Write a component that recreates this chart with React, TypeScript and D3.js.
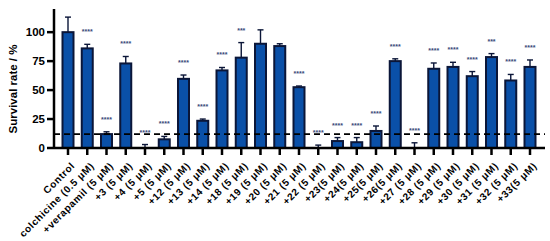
import React from 'react';
import * as d3 from 'd3';

const categories = [
  'Control', 'colchicine (0.5 μM)', '+verapamil (5 μM)', '+3 (5 μM)', '+4 (5 μM)',
  '+5 (5 μM)', '+12 (5 μM)', '+13 (5 μM)', '+14 (5 μM)', '+18 (5 μM)', '+19 (5 μM)',
  '+20 (5 μM)', '+21 (5 μM)', '+22 (5 μM)', '+23(5 μM)', '+24(5 μM)', '+25(5 μM)',
  '+26(5 μM)', '+27 (5 μM)', '+28 (5 μM)', '+29 (5 μM)', '+30 (5 μM)', '+31 (5 μM)',
  '+32 (5 μM)', '+33(5 μM)',
];

const means = [
  100, 86, 12, 73, 0.5, 7.5, 59.7, 23.5, 67, 78, 90, 88, 52.5, 0.3, 6, 5, 14.7,
  75, 0.8, 68.4, 70, 62, 78.5, 58.3, 70,
];

const errors = [
  13, 3.5, 2, 6, 2.5, 2.5, 3.3, 1.5, 2.5, 13, 12, 2, 1, 2.2, 3, 4, 4.3,
  2, 3.7, 5, 4, 4, 3, 5.2, 6,
];

const stars = [
  '', '****', '****', '****', '****', '****', '****', '****', '****', '***', '', '',
  '****', '****', '****', '****', '****', '****', '****', '****', '****', '****', '***',
  '****', '****',
];

const yTicks = [0, 25, 50, 75, 100];
const threshold = 12;

const width = 550;
const height = 241;
const axisX = 54;
const axisEnd = 545;
const font = '"Liberation Sans", Arial, sans-serif';

const App: React.FC = () => {
  const x = d3.scalePoint<string>().domain(categories).range([68, 530]);
  const y = d3.scaleLinear().domain([0, 120]).range([148, 9]);
  const barW = 11;
  const navy = '#0b1638';
  const fill = '#0a50a8';

  return (
    <div style={{ position: 'absolute', left: 0, top: 0 }}>
      <svg width={width} height={height} style={{ display: 'block', background: '#fff' }}>
        {/* bars */}
        {categories.map((c, i) => {
          const cx = x(c) as number;
          const top = y(means[i]);
          const errTop = y(means[i] + errors[i]);
          return (
            <g key={c}>
              <line x1={cx} x2={cx} y1={top} y2={errTop} stroke={navy} strokeWidth={1.4} />
              <line x1={cx - 3} x2={cx + 3} y1={errTop} y2={errTop} stroke={navy} strokeWidth={1.4} />
              {means[i] > 1.5 && (
                <rect
                  x={cx - barW / 2}
                  y={top}
                  width={barW}
                  height={y(0) - top}
                  fill={fill}
                  stroke={navy}
                  strokeWidth={2}
                />
              )}
              {stars[i] && (
                <text
                  x={cx}
                  y={errTop - 10}
                  textAnchor="middle"
                  fontFamily={font}
                  fontSize={7}
                  fontWeight="bold"
                  fill="#3a4a7a"
                >
                  {stars[i]}
                </text>
              )}
            </g>
          );
        })}

        {/* threshold line */}
        <line
          x1={axisX}
          x2={axisEnd}
          y1={y(threshold)}
          y2={y(threshold)}
          stroke="#000"
          strokeWidth={1.8}
          strokeDasharray="6,4"
        />

        {/* y axis */}
        <line x1={axisX} x2={axisX} y1={y(0) + 1} y2={y(120)} stroke="#000" strokeWidth={2.5} />
        {yTicks.map((t) => (
          <g key={t}>
            <line x1={axisX - 7} x2={axisX} y1={y(t)} y2={y(t)} stroke="#000" strokeWidth={2.5} />
            <text
              x={axisX - 9}
              y={y(t)}
              dy="0.36em"
              textAnchor="end"
              fontFamily={font}
              fontWeight="bold"
              fontSize={11.5}
            >
              {t}
            </text>
          </g>
        ))}
        <text
          transform={`translate(17,89) rotate(-90)`}
          textAnchor="middle"
          fontFamily={font}
          fontWeight="bold"
          fontSize={11.5}
        >
          Survival rate / %
        </text>

        {/* x axis */}
        <line x1={axisX} x2={axisEnd} y1={y(0)} y2={y(0)} stroke="#000" strokeWidth={2.5} />
        {categories.map((c) => {
          const cx = x(c) as number;
          return (
            <g key={`t-${c}`}>
              <line x1={cx} x2={cx} y1={y(0)} y2={y(0) + 7} stroke="#000" strokeWidth={2.5} />
              <text
                transform={`translate(${cx + 5},${y(0) + 16}) rotate(-45)`}
                textAnchor="end"
                fontFamily={font}
                fontWeight="bold"
                fontSize={10}
                letterSpacing={0.6}
                dy="0.35em"
              >
                {c}
              </text>
            </g>
          );
        })}
      </svg>
    </div>
  );
};

export default App;
